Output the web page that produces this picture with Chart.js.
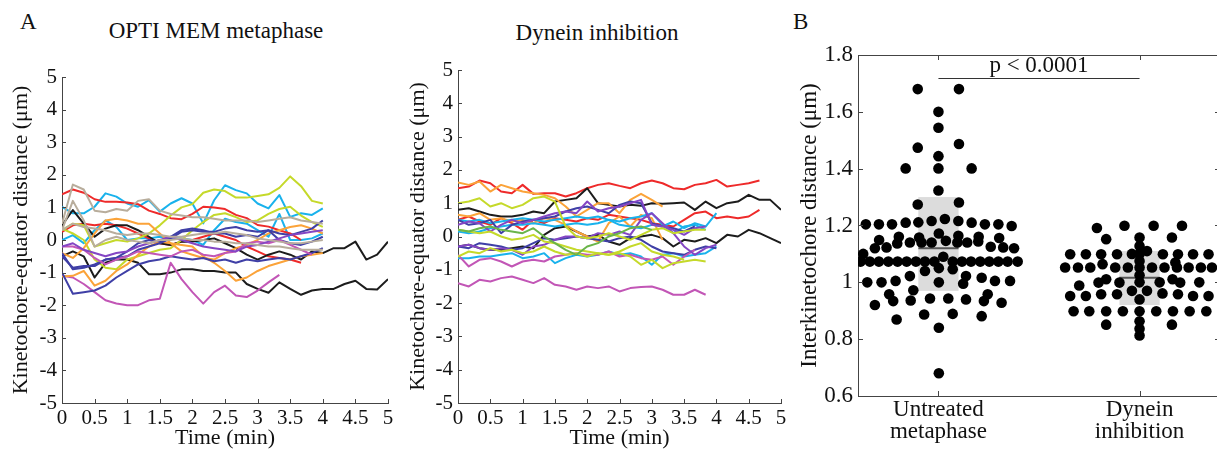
<!DOCTYPE html>
<html>
<head>
<meta charset="utf-8">
<title>Kinetochore oscillations</title>
<script src="https://cdn.jsdelivr.net/npm/chart.js@4.4.1/dist/chart.umd.min.js"></script>
<style>
  html, body { margin: 0; padding: 0; background: #fff; }
  body { position: relative; width: 1217px; height: 453px; overflow: hidden;
         font-family: "Liberation Serif", "Times New Roman", serif; color: #111; }
  canvas { position: absolute; top: 0; }
  .txt { position: absolute; white-space: nowrap; line-height: 1; }
</style>
</head>
<body>
<div class="txt" style="left:20px;top:10px;font-size:23px">A</div>
<div class="txt" style="left:100px;top:19px;width:232px;text-align:center;font-size:23px">OPTI MEM metaphase</div>
<div class="txt" style="left:500px;top:21px;width:194px;text-align:center;font-size:23px">Dynein inhibition</div>
<div class="txt" style="left:793px;top:10px;font-size:23px">B</div>
<canvas id="opti" width="410" height="453" style="left:0"></canvas>
<canvas id="dynein" width="400" height="453" style="left:400px"></canvas>
<canvas id="spacing" width="440" height="453" style="left:790px"></canvas>
<script>
// kinetochore-equator distance (um), one value per frame (10 s)
const frameMinutes = 1 / 6;

// --- OPTI MEM metaphase traces
const optiRed1 = [1.4,1.55,1.45,1.25,1.17,1.17,1.15,1.1,0.9,0.8,0.67,0.64,0.8,1.02,1.0,0.95,0.77,0.67,0.46,0.41,0.3,0.2,0.0];
const optiRed2 = [0.25,0.45,0.5,0.45,0.5,0.45,0.35,0.2,0.05,-0.1,-0.15,-0.05,0.0,0.1,0.2,0.1,0.0,-0.2,-0.35,-0.5,-0.55,-0.6,-0.7];
const optiCyan1 = [1.02,0.82,0.82,1.02,1.43,1.33,1.12,1.02,1.22,0.87,1.12,1.28,1.12,0.51,1.22,1.68,1.53,1.43,1.12,0.97,1.38,0.71,0.82,0.77,0.97];
const optiCyan2 = [0.0,0.15,-0.1,0.3,0.6,0.4,0.0,0.05,0.05,0.1,0.05,0.05,0.0,-0.15,0.3,0.65,0.55,0.5,0.3,0.1,0.8,0.0,0.0,0.05,0.2];
const optiTan1 = [0.5,1.7,1.55,0.9,0.85,0.95,0.9,1.2,1.25,0.9,0.8,0.75,0.7,0.7,0.65,0.6,0.6,0.6,0.55,0.6,0.65,0.7,0.6,0.55,0.5];
const optiTan2 = [0.3,1.2,0.6,-0.2,0.0,0.1,0.0,-0.05,-0.1,0.0,0.0,0.05,0.0,0.0,-0.05,-0.05,-0.1,-0.1,-0.15,-0.2,-0.2,-0.25,-0.3,-0.3,-0.3];
const optiTan3 = [0.3,0.5,0.4,0.35,0.3,0.2,0.15,0.2,0.2,0.15,0.1,0.1,0.15,0.2,0.2,0.25,0.2,0.15,0.05,0.0,-0.05,-0.1,-0.1,-0.05,0.0];
const optiYellow1 = [0.3,0.5,0.45,-0.2,-0.1,0.0,-0.05,0.05,0.2,0.45,0.75,1.0,1.1,1.45,1.55,1.5,1.3,1.3,1.35,1.4,1.6,1.95,1.65,1.2,1.12];
const optiYellow2 = [0.35,0.2,0.0,-0.6,-0.85,-0.9,-0.6,-0.5,-0.4,-0.3,-0.25,0.0,0.3,0.55,0.77,0.82,0.7,0.55,0.6,0.8,0.95,1.02,0.75,0.55,0.4];
const optiBlack1 = [0.45,0.92,0.5,0.1,0.35,0.45,0.45,0.3,0.1,-0.1,-0.15,-0.05,-0.05,0.0,0.05,-0.1,-0.25,-0.45,-0.6,-0.45,-0.35,-0.45,-0.6,-0.35,-0.4,-0.25,-0.25,-0.05,-0.6,-0.45,-0.05];
const optiBlack2 = [-0.5,-0.35,-0.5,-1.15,-0.7,-0.6,-0.6,-0.7,-1.05,-1.05,-1.0,-0.9,-0.9,-0.95,-0.95,-1.0,-1.0,-1.35,-1.5,-1.62,-1.3,-1.5,-1.68,-1.55,-1.5,-1.5,-1.35,-1.25,-1.5,-1.52,-1.2];
const optiNavy1 = [-0.5,-0.85,-0.8,-0.8,-0.6,-0.55,-0.5,-0.3,-0.2,-0.1,0.05,0.25,0.3,0.25,0.25,0.35,0.4,0.3,0.25,0.3,0.2,0.15,0.25,0.35,0.6];
const optiNavy2 = [-1.0,-1.65,-1.6,-1.55,-1.4,-1.15,-0.95,-0.75,-0.65,-0.6,-0.5,-0.55,-0.6,-0.55,-0.65,-0.6,-0.7,-0.6,-0.65,-0.6,-0.55,-0.6,-0.5,-0.4,-0.25];
const optiNavy3 = [-0.4,-0.9,-0.85,-0.75,-0.6,-0.55,-0.35,-0.1,0.0,-0.05,0.1,0.3,0.35,0.3,0.2,0.2,0.1,0.15,0.1,0.3,0.0,-0.1,-0.15,-0.05,0.1];
const optiPurple = [-0.2,-0.1,-0.3,-0.4,-0.5,-0.4,-0.35,-0.2,-0.1,0.0,0.1,0.0,-0.1,-0.2,-0.25,-0.3,-0.35,-0.2,-0.15,-0.05,0.05,0.15,0.2,0.25,0.3];
const optiMagenta1 = [-1.1,-1.15,-1.35,-1.6,-1.85,-1.95,-2.0,-2.0,-1.85,-1.8,-0.7,-1.2,-1.6,-1.95,-1.6,-1.4,-1.7,-1.75,-1.55,-1.3,-1.07];
const optiMagenta2 = [-0.2,-0.2,-0.3,-0.55,-0.75,-0.6,-0.5,-0.35,-0.4,-0.45,-0.5,-0.35,-0.3,-0.45,-0.5,-0.4,-0.35,-0.1,-0.05,-0.1,0.0,-0.15,-0.3,-0.45];
const optiOrange1 = [-1.12,-1.1,-0.95,-1.4,-1.25,-0.95,-0.75,-0.45,-0.2,-0.05,-0.1,-0.15,-0.2,-0.5,-0.7,-0.95,-1.25,-1.15,-0.95,-0.8,-0.7,-0.6,-0.5,-0.45,-0.4];
const optiOrange2 = [-0.4,-0.55,-0.25,0.2,0.6,0.65,0.6,0.5,0.5,0.2,-0.1,-0.35,-0.45,-0.55,-0.6,-0.4,-0.25,-0.15,0.0,0.2,0.3,0.4,0.45,0.35,0.2];

// --- dynein inhibition traces
const dynRed1 = [1.45,1.5,1.68,1.6,1.35,1.3,1.55,1.28,1.3,1.3,1.2,1.3,1.45,1.55,1.6,1.52,1.45,1.6,1.68,1.6,1.45,1.42,1.55,1.6,1.7,1.5,1.55,1.6,1.68];
const dynRed2 = [0.5,0.6,0.45,0.35,0.55,0.4,0.2,0.5,0.4,0.55,0.5,0.45,0.55,0.5,0.65,0.6,0.55,0.5,0.4,0.35,0.3,0.5,0.7,0.75,0.55,0.6,0.55,0.6,0.8];
const dynBlack1 = [0.8,0.85,0.75,0.65,0.6,0.6,0.65,0.75,0.7,1.05,1.1,1.15,1.45,1.0,0.95,0.9,0.95,0.92,1.0,0.98,1.0,1.02,0.8,1.05,0.85,1.0,1.05,1.25,1.1,1.1,0.8];
const dynBlack2 = [-0.3,-0.25,-0.35,-0.4,-0.4,-0.35,-0.3,-0.35,0.05,0.25,0.3,0.15,0.0,0.05,-0.15,-0.25,-0.05,0.0,0.05,-0.05,-0.3,-0.1,-0.15,-0.05,-0.2,0.05,0.0,0.2,0.1,-0.05,-0.2];
const dynOrange1 = [1.62,1.55,1.65,1.35,1.55,1.45,1.35,1.3,1.25,1.15,0.9,0.6,0.8,1.0,1.0,0.7,1.1,1.28,1.1,0.9];
const dynOrange2 = [0.65,0.6,0.7,0.5,0.55,0.45,0.5,0.4,0.55,0.5,0.35,0.15,0.0,-0.15,0.4,0.6,0.3,0.65,0.55,-0.1];
const dynYellow1 = [1.0,1.05,1.15,0.9,1.0,0.85,0.95,1.15,1.2,1.05,0.3,0.0,-0.05,0.0,0.1,0.0,-0.1,0.05,0.2,0.25,0.1,0.15,0.2,0.2];
const dynYellow2 = [0.2,0.15,0.1,0.15,0.0,-0.1,-0.05,0.05,-0.15,-0.2,-0.3,-0.4,-0.45,-0.5,-0.55,-0.5,-0.6,-0.85,-0.7,-0.95,-0.8,-0.75,-0.7,-0.75];
const dynYellow3 = [-0.6,-0.45,-0.5,-0.35,-0.45,-0.4,-0.5,-0.45,-0.3,-0.45,-0.55,-0.5,-0.6,-0.5,-0.55,-0.45,-0.3,-0.2,-0.45,-0.55,-0.6,-0.7];
const dynCyan1 = [0.15,0.1,0.15,0.25,0.3,0.35,0.35,0.4,0.35,0.3,0.35,0.4,0.35,0.4,0.5,0.35,0.3,0.25,0.35,0.3,0.45,0.25,0.4,0.3,0.7];
const dynCyan2 = [-0.65,-0.65,-0.6,-0.6,-0.55,-0.5,-0.65,-0.6,-0.5,-0.8,-0.65,-0.55,-0.6,-0.55,-0.45,-0.55,-0.5,-0.6,-0.85,-0.55,-0.5,-0.6,-0.55,-0.5,-0.3];
const dynCyan3 = [0.5,0.45,0.5,0.4,0.45,0.5,0.55,0.5,0.45,0.5,0.55,0.6,0.55,0.6,0.5,0.45,0.55,0.6,0.7,0.35,0.1,0.3,0.35,0.2];
const dynPurple1 = [0.35,0.45,0.4,0.15,0.35,0.5,0.4,0.5,0.6,0.7,0.75,0.7,1.05,0.75,0.85,0.9,1.0,1.1,0.35,0.3,0.2,0.05,0.25,0.3];
const dynPurple2 = [-0.3,-0.25,-0.35,-0.4,-0.35,-0.4,-0.55,-0.3,-0.25,-0.1,0.0,0.0,-0.05,0.1,0.05,0.15,0.05,0.5,0.7,0.4,0.1,-0.3,-0.55,-0.35,-0.25];
const dynPurple3 = [-0.55,-0.9,-0.7,-0.65,-0.75,-0.9,-0.75,-0.7,-0.75,-0.6,-0.55,-0.5,-0.55,-0.55,-0.45,-0.6,-0.55,-0.65,-0.7,-0.6,-0.85,-0.6,-0.4];
const dynMagenta = [-1.4,-1.5,-1.3,-1.35,-1.25,-1.2,-1.3,-1.4,-1.25,-1.45,-1.5,-1.6,-1.5,-1.55,-1.5,-1.65,-1.55,-1.52,-1.5,-1.6,-1.75,-1.75,-1.6,-1.75];
const dynNavy1 = [0.5,0.35,0.4,0.5,0.1,0.35,0.45,0.5,0.55,0.6,0.75,0.85,0.9,0.8,0.7,0.95,1.05,1.0,0.4,0.3,0.25,0.15,0.3];
const dynNavy2 = [-0.3,-0.35,-0.2,-0.25,-0.3,-0.4,-0.35,-0.2,-0.05,-0.1,-0.05,0.0,-0.05,-0.1,-0.15,-0.05,0.0,-0.1,-0.3,-0.45,-0.5,-0.55,-0.4,-0.3,-0.35];
const dynGreen = [0.2,0.15,0.25,0.3,0.2,0.15,0.1,0.25,0.0,-0.2,-0.4,-0.55,-0.3,-0.2,0.0,0.1,0.25,0.3,0.2];

// --- panel B: interkinetochore distance (um), x = offset inside the group column
const groupLabels = [['Untreated', 'metaphase'], ['Dynein', 'inhibition']];
const untreatedX = [-0.103,0.102,0,0,-0.103,0.102,0,-0.163,0,0.165,0,-0.103,0.102,
  -0.361,-0.296,-0.231,-0.163,-0.1,-0.034,0.032,0.099,0.165,0.231,0.298,0.364,
  -0.295,-0.316,-0.258,-0.197,-0.205,-0.142,-0.096,-0.084,-0.034,0.002,0.037,0.099,0.094,0.143,0.2,0.198,0.26,0.302,0.322,0.376,-0.374,
  -0.387,-0.341,-0.296,-0.249,-0.203,-0.158,-0.112,-0.067,-0.02,0.024,0.071,0.117,0.162,0.208,0.253,0.298,0.344,0.394,
  -0.067,0.002,0.071,
  -0.354,-0.283,-0.213,-0.142,0.002,0.137,0.123,0.215,0.281,0.356,
  -0.245,-0.225,-0.125,-0.138,-0.316,-0.042,0.049,0.137,0.245,0.226,0.314,
  -0.208,-0.071,0.071,0.215,
  0.002,0.002];
const untreatedY = [1.68,1.68,1.6,1.544,1.474,1.487,1.444,1.401,1.401,1.401,1.323,1.274,1.281,
  1.204,1.204,1.204,1.21,1.211,1.216,1.223,1.216,1.21,1.204,1.204,1.198,
  1.149,1.12,1.123,1.16,1.137,1.14,1.158,1.14,1.14,1.172,1.146,1.164,1.14,1.14,1.16,1.144,1.125,1.156,1.123,1.12,1.1,
  1.073,1.073,1.073,1.073,1.073,1.073,1.073,1.073,1.073,1.09,1.073,1.073,1.073,1.073,1.073,1.073,1.073,1.073,
  1.04,1.05,1.046,
  1.0,1.0,1.005,1.022,1.0,1.022,0.995,1.016,1.005,1.005,
  0.958,0.934,0.972,0.936,0.92,0.943,0.943,0.94,0.958,0.934,0.928,
  0.869,0.887,0.889,0.881,
  0.84,0.68];
const dyneinX = [-0.212,-0.075,0.07,0.211,-0.166,0.161,
  0,0,0,0,0,0,0,0,0,
  -0.345,-0.267,-0.191,-0.112,-0.038,0.037,0.116,0.191,0.266,0.343,
  -0.37,-0.306,-0.245,-0.184,-0.121,-0.058,0,0.062,0.124,0.178,0.186,0.244,0.305,0.36,
  -0.3,-0.204,-0.166,-0.1,0,0.1,0.164,0.202,0.297,
  -0.345,-0.267,-0.191,-0.112,-0.038,0.037,0.114,0.191,0.266,0.343,
  -0.328,-0.25,-0.166,-0.083,0,0.083,0.166,0.249,0.332,
  -0.166,0.161];
const dyneinY = [1.191,1.199,1.199,1.199,1.152,1.158,
  1.158,1.128,1.1,1.075,1.025,0.94,0.863,0.837,0.813,
  1.099,1.099,1.099,1.099,1.1,1.11,1.099,1.099,1.099,1.099,
  1.052,1.052,1.052,1.064,1.052,1.052,1.052,1.052,1.052,1.07,1.052,1.052,1.052,1.052,
  0.989,0.999,1.011,0.999,1.0,1.0,1.011,0.999,1.0,
  0.952,0.952,0.958,0.958,0.97,0.97,0.961,0.958,0.952,0.952,
  0.898,0.898,0.898,0.898,0.898,0.898,0.898,0.898,0.898,
  0.851,0.851];
// grey boxes: [lower, median, upper]
const untreatedBox = [0.97, 1.12, 1.30];
const dyneinBox = [0.92, 1.016, 1.11];
const pValueText = 'p < 0.0001';
const pBracketY = 1.72;

const RED = '#ee2a2a', CYAN = '#19b2ec', TAN = '#b8ad9c', YELLOW = '#c5d92a', BLACK = '#1c1c1c',
      NAVY = '#3f3fa6', PURPLE = '#8446c4', MAGENTA = '#c256b6', ORANGE = '#fba339', GREEN = '#6ab54a';

const optiTraces = [
  [optiTan1, TAN], [optiTan2, TAN], [optiTan3, TAN], [optiPurple, PURPLE], [optiMagenta2, MAGENTA],
  [optiNavy1, NAVY], [optiNavy2, NAVY], [optiNavy3, NAVY], [optiOrange1, ORANGE], [optiOrange2, ORANGE],
  [optiYellow1, YELLOW], [optiYellow2, YELLOW], [optiMagenta1, MAGENTA], [optiBlack1, BLACK], [optiBlack2, BLACK],
  [optiRed1, RED], [optiRed2, RED], [optiCyan1, CYAN], [optiCyan2, CYAN]
];
const dyneinTraces = [
  [dynGreen, GREEN], [dynYellow1, YELLOW], [dynYellow2, YELLOW], [dynYellow3, YELLOW],
  [dynPurple1, PURPLE], [dynPurple2, PURPLE], [dynPurple3, MAGENTA], [dynMagenta, MAGENTA],
  [dynNavy1, NAVY], [dynNavy2, NAVY], [dynCyan1, CYAN], [dynCyan2, CYAN], [dynCyan3, CYAN],
  [dynOrange1, ORANGE], [dynOrange2, ORANGE], [dynBlack1, BLACK], [dynBlack2, BLACK], [dynRed1, RED], [dynRed2, RED]
];

const SERIF = '"Liberation Serif", "Times New Roman", serif';
Chart.defaults.font.family = SERIF;
Chart.defaults.color = '#111';

// plain numbers: 1 not 1.0, 0.5 stays 0.5
const plainTick = v => String(Math.round(v * 100) / 100);

// MATLAB-like tick marks pointing into the plot
const innerTicks = {
  id: 'innerTicks',
  afterDraw(chart, args, opts) {
    const { ctx, chartArea: a, scales: { x, y } } = chart;
    const len = opts.length || 5;
    ctx.save();
    ctx.strokeStyle = '#444';
    ctx.lineWidth = 1;
    ctx.beginPath();
    y.ticks.forEach(t => {
      const py = Math.round(y.getPixelForValue(t.value)) + 0.5;
      ctx.moveTo(a.left, py); ctx.lineTo(a.left + len, py);
      if (opts.box) { ctx.moveTo(a.right, py); ctx.lineTo(a.right - len, py); }
    });
    x.ticks.forEach(t => {
      const px = Math.round(x.getPixelForValue(t.value)) + 0.5;
      ctx.moveTo(px, a.bottom); ctx.lineTo(px, a.bottom - len);
      if (opts.box) { ctx.moveTo(px, a.top); ctx.lineTo(px, a.top + len); }
    });
    if (opts.box) {
      ctx.moveTo(a.left, a.top + 0.5); ctx.lineTo(a.right, a.top + 0.5);
      ctx.moveTo(a.right - 0.5, a.top); ctx.lineTo(a.right - 0.5, a.bottom);
    }
    ctx.stroke();
    ctx.restore();
  }
};

function traceDatasets(traces) {
  return traces.map(([vals, colour]) => ({
    data: vals.map((v, i) => ({ x: i * frameMinutes, y: v })),
    borderColor: colour,
    borderWidth: 2,
    borderJoinStyle: 'round',
    pointRadius: 0,
    tension: 0,
    fill: false
  }));
}

function traceOptions(padLeft, padRight, padTop, yWidth, yTitlePad) {
  return {
    responsive: false,
    animation: false,
    layout: { padding: { left: padLeft, right: padRight, top: padTop, bottom: 0 } },
    plugins: { legend: { display: false }, tooltip: { enabled: false }, innerTicks: { length: 4 } },
    scales: {
      x: {
        type: 'linear', min: 0, max: 5,
        ticks: { stepSize: 0.5, autoSkip: false, maxRotation: 0, padding: 3,
                 font: { family: SERIF, size: 21 }, callback: plainTick },
        grid: { display: false, drawTicks: false },
        border: { color: '#444' },
        title: { display: true, text: 'Time (min)', font: { family: SERIF, size: 22 }, padding: { top: 0, bottom: 2 } },
        afterFit: s => { s.height = 50; }
      },
      y: {
        type: 'linear', min: -5, max: 5,
        ticks: { stepSize: 1, padding: 5, font: { family: SERIF, size: 21 }, callback: plainTick },
        grid: { display: false, drawTicks: false },
        border: { color: '#444' },
        title: { display: true, text: 'Kinetochore-equator distance (μm)', font: { family: SERIF, size: 22 }, padding: { top: yTitlePad } },
        afterFit: s => { s.width = yWidth; }
      }
    }
  };
}

const charts = [];

charts.push(new Chart(document.getElementById('opti'), {
  type: 'line',
  data: { datasets: traceDatasets(optiTraces) },
  options: traceOptions(4, 22, 77, 58, 4),
  plugins: [innerTicks]
}));

charts.push(new Chart(document.getElementById('dynein'), {
  type: 'line',
  data: { datasets: traceDatasets(dyneinTraces) },
  options: traceOptions(0, 19, 70, 58, 5),
  plugins: [innerTicks]
}));

// grey inter-quartile boxes with median line, and the significance bracket
const groupBoxes = {
  id: 'groupBoxes',
  beforeDatasetsDraw(chart) {
    const { ctx, scales: { x, y } } = chart;
    ctx.save();
    [untreatedBox, dyneinBox].forEach((b, i) => {
      const l = x.getPixelForValue(i + 1 - 0.1), r = x.getPixelForValue(i + 1 + 0.1);
      const top = y.getPixelForValue(b[2]), bot = y.getPixelForValue(b[0]);
      ctx.fillStyle = '#dcdcdc';
      ctx.fillRect(l, top, r - l, bot - top);
      const m = y.getPixelForValue(b[1]);
      ctx.strokeStyle = '#555';
      ctx.lineWidth = 2;
      ctx.beginPath(); ctx.moveTo(l, m); ctx.lineTo(r, m); ctx.stroke();
    });
    const by = Math.round(y.getPixelForValue(pBracketY)) + 0.5;
    ctx.strokeStyle = '#333';
    ctx.lineWidth = 1;
    ctx.beginPath(); ctx.moveTo(x.getPixelForValue(1), by); ctx.lineTo(x.getPixelForValue(2), by); ctx.stroke();
    ctx.fillStyle = '#111';
    ctx.font = '23px ' + SERIF;
    ctx.textAlign = 'center';
    ctx.textBaseline = 'bottom';
    ctx.fillText(pValueText, x.getPixelForValue(1.5), by - 1);
    ctx.restore();
  }
};

function dotData(dx, dy, group) {
  return dx.map((d, i) => ({ x: group + d, y: dy[i] }));
}

charts.push(new Chart(document.getElementById('spacing'), {
  type: 'scatter',
  data: {
    datasets: [
      { data: dotData(untreatedX, untreatedY, 1), backgroundColor: '#000', borderWidth: 0, pointRadius: 5.3 },
      { data: dotData(dyneinX, dyneinY, 2), backgroundColor: '#000', borderWidth: 0, pointRadius: 5.3 }
    ]
  },
  options: {
    responsive: false,
    animation: false,
    layout: { padding: { left: 0, right: 10, top: 55, bottom: 0 } },
    plugins: { legend: { display: false }, tooltip: { enabled: false }, innerTicks: { length: 5, box: true } },
    scales: {
      x: {
        type: 'linear', min: 0.6, max: 2.4,
        afterBuildTicks: s => { s.ticks = groupLabels.map((_, i) => ({ value: i + 1 })); },
        ticks: { autoSkip: false, maxRotation: 0, padding: 3, font: { family: SERIF, size: 23, lineHeight: 0.95 },
                 callback: v => groupLabels[Math.round(v) - 1] },
        grid: { display: false, drawTicks: false },
        border: { color: '#444' },
        afterFit: s => { s.height = 57; }
      },
      y: {
        type: 'linear', min: 0.6, max: 1.8,
        ticks: { stepSize: 0.2, padding: 5, font: { family: SERIF, size: 23 }, callback: plainTick },
        grid: { display: false, drawTicks: false },
        border: { color: '#444' },
        title: { display: true, text: 'Interkinetochore distance (μm)', font: { family: SERIF, size: 23 }, padding: { top: 6 } },
        afterFit: s => { s.width = 68; }
      }
    }
  },
  plugins: [groupBoxes, innerTicks]
}));

// redraw once the serif face is ready, so canvas text does not keep a fallback font
if (document.fonts && document.fonts.load) {
  document.fonts.load('21px "Liberation Serif"').then(() => charts.forEach(c => c.update('none')));
}
</script>
</body>
</html>
